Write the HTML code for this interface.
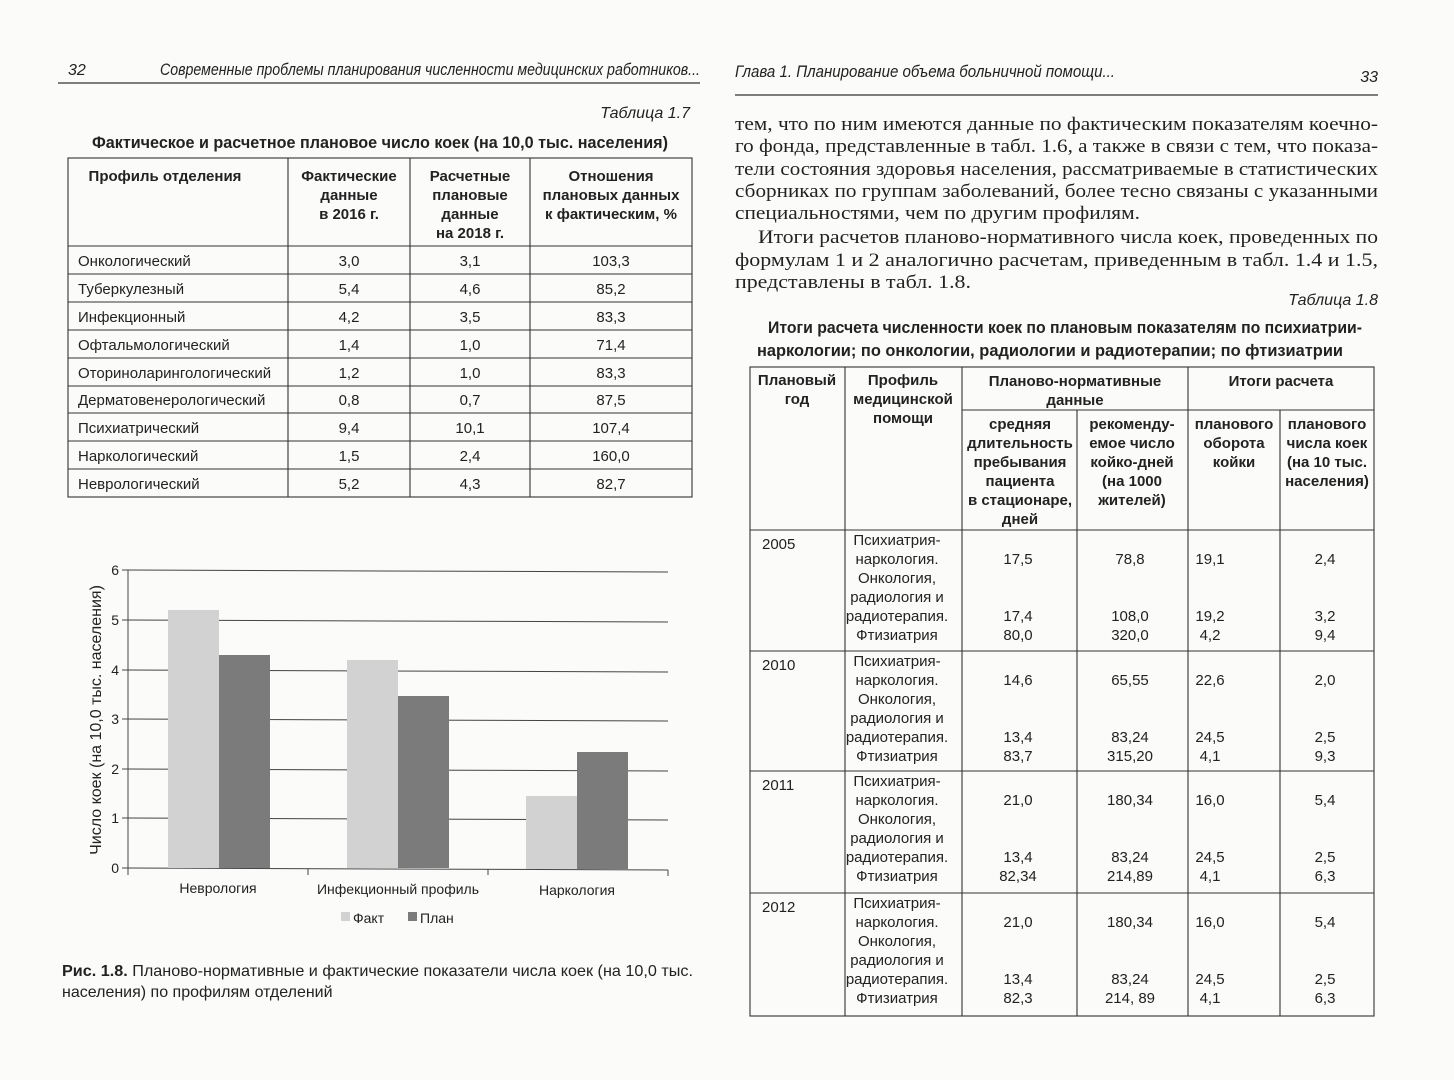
<!DOCTYPE html>
<html><head><meta charset="utf-8"><style>html,body{margin:0;padding:0;background:#fff}svg{display:block}</style></head><body>
<svg width="1454" height="1080" viewBox="0 0 1454 1080" xmlns="http://www.w3.org/2000/svg" font-family="'Liberation Sans Narrow','Liberation Sans',sans-serif" fill="#222">
<rect width="1454" height="1080" fill="#fbfbfa"/>
<!-- LEFT PAGE -->
<text x="68" y="75" font-size="16" font-style="italic">32</text>
<text x="160" y="75" font-size="17" font-style="italic" textLength="540" lengthAdjust="spacingAndGlyphs">Современные проблемы планирования численности медицинских работников...</text>
<line x1="58" y1="83" x2="700" y2="83" stroke="#333" stroke-width="1.2"/>
<text x="690" y="118" font-size="16" font-style="italic" text-anchor="end">Таблица 1.7</text>
<text x="380" y="148" font-size="17" font-weight="bold" text-anchor="middle" textLength="576" lengthAdjust="spacingAndGlyphs">Фактическое и расчетное плановое число коек (на 10,0 тыс. населения)</text>
<g stroke="#333" stroke-width="1.1" fill="none">
<rect x="68" y="158" width="624" height="339"/>
<line x1="288" y1="158" x2="288" y2="497"/><line x1="410" y1="158" x2="410" y2="497"/><line x1="530" y1="158" x2="530" y2="497"/>
<line x1="68" y1="246" x2="692" y2="246"/><line x1="68" y1="274" x2="692" y2="274"/><line x1="68" y1="302" x2="692" y2="302"/><line x1="68" y1="330" x2="692" y2="330"/><line x1="68" y1="358" x2="692" y2="358"/><line x1="68" y1="386" x2="692" y2="386"/><line x1="68" y1="413" x2="692" y2="413"/><line x1="68" y1="441" x2="692" y2="441"/><line x1="68" y1="469" x2="692" y2="469"/>
</g>
<g font-size="15" font-weight="bold" text-anchor="middle">
<text x="165" y="181">Профиль отделения</text>
<text x="349" y="181">Фактические</text><text x="349" y="200">данные</text><text x="349" y="219">в 2016 г.</text>
<text x="470" y="181">Расчетные</text><text x="470" y="200">плановые</text><text x="470" y="219">данные</text><text x="470" y="238">на 2018 г.</text>
<text x="611" y="181">Отношения</text><text x="611" y="200">плановых данных</text><text x="611" y="219">к фактическим, %</text>
</g>
<g font-size="15">
<text x="78" y="266">Онкологический</text><text x="78" y="294">Туберкулезный</text><text x="78" y="322">Инфекционный</text><text x="78" y="350">Офтальмологический</text><text x="78" y="378">Оториноларингологический</text><text x="78" y="405">Дерматовенерологический</text><text x="78" y="433">Психиатрический</text><text x="78" y="461">Наркологический</text><text x="78" y="489">Неврологический</text>
</g>
<g font-size="15" text-anchor="middle">
<text x="349" y="266">3,0</text><text x="470" y="266">3,1</text><text x="611" y="266">103,3</text>
<text x="349" y="294">5,4</text><text x="470" y="294">4,6</text><text x="611" y="294">85,2</text>
<text x="349" y="322">4,2</text><text x="470" y="322">3,5</text><text x="611" y="322">83,3</text>
<text x="349" y="350">1,4</text><text x="470" y="350">1,0</text><text x="611" y="350">71,4</text>
<text x="349" y="378">1,2</text><text x="470" y="378">1,0</text><text x="611" y="378">83,3</text>
<text x="349" y="405">0,8</text><text x="470" y="405">0,7</text><text x="611" y="405">87,5</text>
<text x="349" y="433">9,4</text><text x="470" y="433">10,1</text><text x="611" y="433">107,4</text>
<text x="349" y="461">1,5</text><text x="470" y="461">2,4</text><text x="611" y="461">160,0</text>
<text x="349" y="489">5,2</text><text x="470" y="489">4,3</text><text x="611" y="489">82,7</text>
</g>
<!-- chart -->
<g stroke="#444" stroke-width="1">
<line x1="122" y1="570" x2="668" y2="572"/><line x1="122" y1="620" x2="668" y2="622"/><line x1="122" y1="670" x2="668" y2="672"/><line x1="122" y1="719" x2="668" y2="721"/><line x1="122" y1="769" x2="668" y2="771"/><line x1="122" y1="818" x2="668" y2="820"/>
<line x1="128" y1="570" x2="128" y2="870"/><line x1="122" y1="868" x2="668" y2="870"/>
<line x1="128" y1="868" x2="128" y2="875"/><line x1="308" y1="869" x2="308" y2="875"/><line x1="488" y1="869" x2="488" y2="875"/><line x1="668" y1="870" x2="668" y2="876"/>
</g>
<rect x="168" y="610" width="51" height="258" fill="#d2d2d2"/>
<rect x="219" y="655" width="51" height="213" fill="#7b7b7b"/>
<rect x="347" y="660" width="51" height="208" fill="#d2d2d2"/>
<rect x="398" y="696" width="51" height="172" fill="#7b7b7b"/>
<rect x="526" y="796" width="51" height="73" fill="#d2d2d2"/>
<rect x="577" y="752" width="51" height="117" fill="#7b7b7b"/>
<g font-size="14" text-anchor="end" font-family="'Liberation Sans',sans-serif">
<text x="119" y="575">6</text><text x="119" y="625">5</text><text x="119" y="675">4</text><text x="119" y="724">3</text><text x="119" y="774">2</text><text x="119" y="823">1</text><text x="119" y="873">0</text>
</g>
<g font-size="14" text-anchor="middle" font-family="'Liberation Sans',sans-serif">
<text x="218" y="893">Неврология</text><text x="398" y="894">Инфекционный профиль</text><text x="577" y="895">Наркология</text>
</g>
<text transform="translate(101,720) rotate(-90)" font-size="16" text-anchor="middle" font-family="'Liberation Sans',sans-serif">Число коек (на 10,0 тыс. населения)</text>
<rect x="341" y="912" width="9" height="9" fill="#d2d2d2"/><text x="353" y="923" font-size="14" font-family="'Liberation Sans',sans-serif">Факт</text>
<rect x="408" y="912" width="9" height="9" fill="#7b7b7b"/><text x="420" y="923" font-size="14" font-family="'Liberation Sans',sans-serif">План</text>
<text x="62" y="976" font-size="16" textLength="631" lengthAdjust="spacingAndGlyphs"><tspan font-weight="bold">Рис. 1.8.</tspan> Планово-нормативные и фактические показатели числа коек (на 10,0 тыс.</text>
<text x="62" y="997" font-size="16">населения) по профилям отделений</text>
<!-- RIGHT PAGE -->
<text x="735" y="77" font-size="17" font-style="italic" textLength="380" lengthAdjust="spacingAndGlyphs">Глава 1. Планирование объема больничной помощи...</text>
<text x="1378" y="82" font-size="16" font-style="italic" text-anchor="end">33</text>
<line x1="735" y1="95" x2="1378" y2="95" stroke="#333" stroke-width="1.2"/>
<g font-family="'Liberation Serif',serif" font-size="19">
<text x="735" y="130" textLength="643" lengthAdjust="spacingAndGlyphs">тем, что по ним имеются данные по фактическим показателям коечно-</text>
<text x="735" y="152" textLength="643" lengthAdjust="spacingAndGlyphs">го фонда, представленные в табл. 1.6, а также в связи с тем, что показа-</text>
<text x="735" y="175" textLength="643" lengthAdjust="spacingAndGlyphs">тели состояния здоровья населения, рассматриваемые в статистических</text>
<text x="735" y="197" textLength="643" lengthAdjust="spacingAndGlyphs">сборниках по группам заболеваний, более тесно связаны с указанными</text>
<text x="735" y="219" textLength="405" lengthAdjust="spacingAndGlyphs">специальностями, чем по другим профилям.</text>
<text x="758" y="243" textLength="620" lengthAdjust="spacingAndGlyphs">Итоги расчетов планово-нормативного числа коек, проведенных по</text>
<text x="735" y="266" textLength="643" lengthAdjust="spacingAndGlyphs">формулам 1 и 2 аналогично расчетам, приведенным в табл. 1.4 и 1.5,</text>
<text x="735" y="288" textLength="236" lengthAdjust="spacingAndGlyphs">представлены в табл. 1.8.</text>
</g>
<text x="1378" y="305" font-size="16" font-style="italic" text-anchor="end">Таблица 1.8</text>
<text x="1065" y="333" font-size="17" font-weight="bold" text-anchor="middle" textLength="594" lengthAdjust="spacingAndGlyphs">Итоги расчета численности коек по плановым показателям по психиатрии-</text>
<text x="1050" y="356" font-size="17" font-weight="bold" text-anchor="middle" textLength="586" lengthAdjust="spacingAndGlyphs">наркологии; по онкологии, радиологии и радиотерапии; по фтизиатрии</text>
<g stroke="#333" stroke-width="1.1" fill="none">
<rect x="750" y="367" width="624" height="649"/>
<line x1="845" y1="367" x2="845" y2="1016"/><line x1="962" y1="367" x2="962" y2="1016"/><line x1="1077" y1="410" x2="1077" y2="1016"/><line x1="1188" y1="367" x2="1188" y2="1016"/><line x1="1280" y1="410" x2="1280" y2="1016"/>
<line x1="962" y1="410" x2="1374" y2="410"/>
<line x1="750" y1="530" x2="1374" y2="530"/><line x1="750" y1="651" x2="1374" y2="651"/><line x1="750" y1="771" x2="1374" y2="771"/><line x1="750" y1="893" x2="1374" y2="893"/>
</g>
<g font-size="15" font-weight="bold" text-anchor="middle">
<text x="797" y="385">Плановый</text><text x="797" y="404">год</text>
<text x="903" y="385">Профиль</text><text x="903" y="404">медицинской</text><text x="903" y="423">помощи</text>
<text x="1075" y="386">Планово-нормативные</text><text x="1075" y="405">данные</text>
<text x="1281" y="386">Итоги расчета</text>
<text x="1020" y="429">средняя</text><text x="1020" y="448">длительность</text><text x="1020" y="467">пребывания</text><text x="1020" y="486">пациента</text><text x="1020" y="505">в стационаре,</text><text x="1020" y="524">дней</text>
<text x="1132" y="429">рекоменду-</text><text x="1132" y="448">емое число</text><text x="1132" y="467">койко-дней</text><text x="1132" y="486">(на 1000</text><text x="1132" y="505">жителей)</text>
<text x="1234" y="429">планового</text><text x="1234" y="448">оборота</text><text x="1234" y="467">койки</text>
<text x="1327" y="429">планового</text><text x="1327" y="448">числа коек</text><text x="1327" y="467">(на 10 тыс.</text><text x="1327" y="486">населения)</text>
</g>
<g font-size="15">
<text x="762" y="549">2005</text><text x="762" y="670">2010</text><text x="762" y="790">2011</text><text x="762" y="912">2012</text>
</g>
<g font-size="15" text-anchor="middle">
<g transform="translate(0,530)"><text x="897" y="15">Психиатрия-</text><text x="897" y="34">наркология.</text><text x="897" y="53">Онкология,</text><text x="897" y="72">радиология и</text><text x="897" y="91">радиотерапия.</text><text x="897" y="110">Фтизиатрия</text>
<text x="1018" y="34">17,5</text><text x="1130" y="34">78,8</text><text x="1210" y="34">19,1</text><text x="1325" y="34">2,4</text>
<text x="1018" y="91">17,4</text><text x="1130" y="91">108,0</text><text x="1210" y="91">19,2</text><text x="1325" y="91">3,2</text>
<text x="1018" y="110">80,0</text><text x="1130" y="110">320,0</text><text x="1210" y="110">4,2</text><text x="1325" y="110">9,4</text></g>
<g transform="translate(0,651)"><text x="897" y="15">Психиатрия-</text><text x="897" y="34">наркология.</text><text x="897" y="53">Онкология,</text><text x="897" y="72">радиология и</text><text x="897" y="91">радиотерапия.</text><text x="897" y="110">Фтизиатрия</text>
<text x="1018" y="34">14,6</text><text x="1130" y="34">65,55</text><text x="1210" y="34">22,6</text><text x="1325" y="34">2,0</text>
<text x="1018" y="91">13,4</text><text x="1130" y="91">83,24</text><text x="1210" y="91">24,5</text><text x="1325" y="91">2,5</text>
<text x="1018" y="110">83,7</text><text x="1130" y="110">315,20</text><text x="1210" y="110">4,1</text><text x="1325" y="110">9,3</text></g>
<g transform="translate(0,771)"><text x="897" y="15">Психиатрия-</text><text x="897" y="34">наркология.</text><text x="897" y="53">Онкология,</text><text x="897" y="72">радиология и</text><text x="897" y="91">радиотерапия.</text><text x="897" y="110">Фтизиатрия</text>
<text x="1018" y="34">21,0</text><text x="1130" y="34">180,34</text><text x="1210" y="34">16,0</text><text x="1325" y="34">5,4</text>
<text x="1018" y="91">13,4</text><text x="1130" y="91">83,24</text><text x="1210" y="91">24,5</text><text x="1325" y="91">2,5</text>
<text x="1018" y="110">82,34</text><text x="1130" y="110">214,89</text><text x="1210" y="110">4,1</text><text x="1325" y="110">6,3</text></g>
<g transform="translate(0,893)"><text x="897" y="15">Психиатрия-</text><text x="897" y="34">наркология.</text><text x="897" y="53">Онкология,</text><text x="897" y="72">радиология и</text><text x="897" y="91">радиотерапия.</text><text x="897" y="110">Фтизиатрия</text>
<text x="1018" y="34">21,0</text><text x="1130" y="34">180,34</text><text x="1210" y="34">16,0</text><text x="1325" y="34">5,4</text>
<text x="1018" y="91">13,4</text><text x="1130" y="91">83,24</text><text x="1210" y="91">24,5</text><text x="1325" y="91">2,5</text>
<text x="1018" y="110">82,3</text><text x="1130" y="110">214, 89</text><text x="1210" y="110">4,1</text><text x="1325" y="110">6,3</text></g>
</g>
</svg>
</body></html>
